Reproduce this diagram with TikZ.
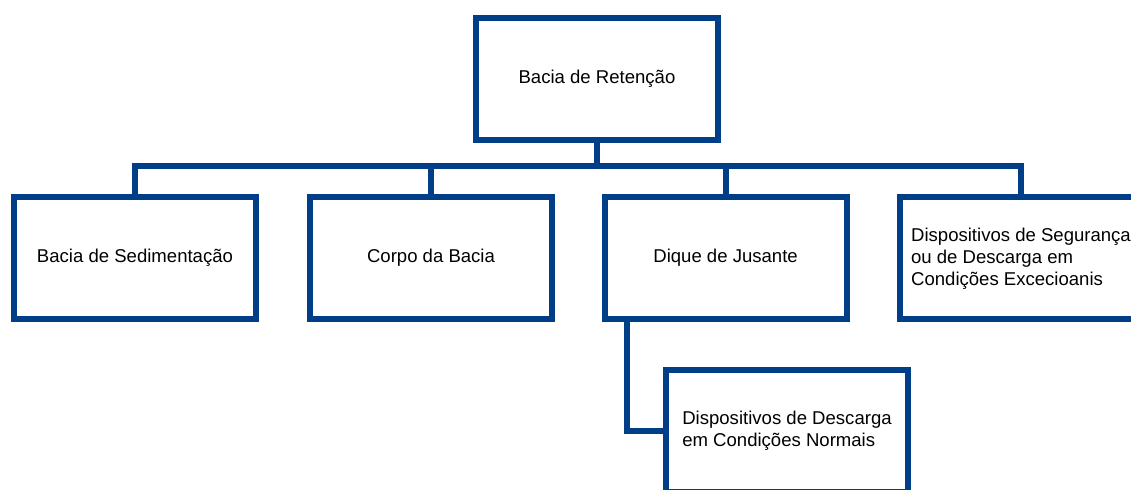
\documentclass[tikz,border=0pt]{standalone}
\usepackage{fontspec}
\setmainfont{Liberation Sans}
\definecolor{boxblue}{RGB}{0,63,135}
\tikzset{
  caixa/.style={draw=boxblue,line width=0.15cm,fill=white,minimum width=6.05cm,
    minimum height=3.05cm,inner sep=0pt,align=left,font=\fontsize{13.2}{15.7}\selectfont},
  liga/.style={boxblue,line width=0.15cm}
}
\begin{document}
\begin{tikzpicture}
\clip (0,0) rectangle (28.275,12.25);

% Connectors bus level
\coordinate (bus) at (0,8.09);

% Boxes
\node[caixa] (ret) at (14.925,10.275) {Bacia de Retenção};
\node[caixa] (sed) at (3.375,5.81) {Bacia de Sedimentação};
\node[caixa] (corpo) at (10.775,5.81) {Corpo da Bacia};
\node[caixa] (dique) at (18.14,5.81) {Dique de Jusante};
\node[caixa] (seg) at (25.525,5.79) {Dispositivos de Segurança\\ou de Descarga em\\Condições Excecioanis};
\node[caixa] (norm) at (19.675,1.475) {Dispositivos de Descarga\\em Condições Normais};

% Tree lines
\foreach \n in {sed,corpo,dique,seg}
  \draw[liga] (ret.south) -- (ret.south |- bus) -| (\n.north);
\draw[liga] ([xshift=-2.46cm]dique.south) |- (norm.west);

\end{tikzpicture}
\end{document}
